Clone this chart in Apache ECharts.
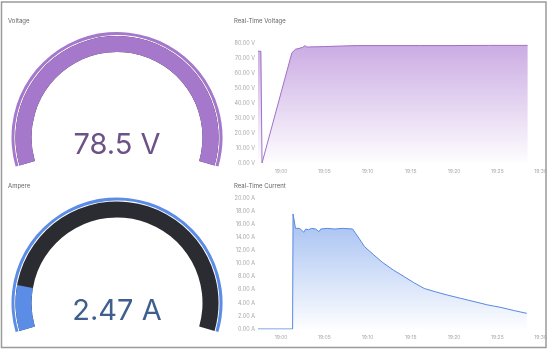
<!DOCTYPE html>
<html>
<head>
<meta charset="utf-8">
<script src="https://cdn.jsdelivr.net/npm/echarts@6/dist/echarts.min.js"></script>
<style>
html,body{margin:0;padding:0;background:#fff;}
#c{width:550px;height:350px;}
</style>
</head>
<body>
<div id="c"></div>
<script>
// ---- data ----
var panelTitles = ['Voltage', 'Real-Time Voltage', 'Ampere', 'Real-Time Current'];
var voltageGauge = 78.5;
var currentGauge = 2.47;
var voltageGaugeMax = 78.5;
var currentGaugeMax = 20;

var voltageTimes = ['18:57:20','18:57:40','18:57:48','19:01:15','19:01:40','19:02:30','19:02:45','19:03:00','19:03:20','19:05:00','19:07:00','19:08:50','19:12:00','19:16:00','19:20:00','19:24:00','19:28:30'];
var voltageValues = [74.5, 74.5, 0, 73.5, 75.8, 77.1, 78.2, 77.3, 77.4, 77.6, 78.0, 78.3, 78.3, 78.3, 78.3, 78.4, 78.4];

var currentTimes = ['18:57:20','19:01:20','19:01:23','19:01:40','19:02:10','19:02:37','19:02:51','19:03:10','19:03:33','19:04:00','19:04:23','19:04:35','19:05:20','19:06:11','19:07:10','19:08:16','19:09:00','19:09:39','19:10:40','19:11:43','19:13:00','19:14:15','19:15:20','19:16:33','19:17:50','19:19:12','19:20:45','19:22:18','19:23:50','19:25:25','19:27:00','19:28:24'];
var currentValues = [0, 0, 17.6, 15.4, 15.4, 14.8, 15.3, 15.2, 15.4, 15.3, 14.9, 15.3, 15.4, 15.3, 15.4, 15.3, 13.9, 12.6, 11.4, 10.2, 9.0, 8.0, 7.1, 6.2, 5.7, 5.2, 4.7, 4.2, 3.7, 3.3, 2.8, 2.4];

var xTickLabels = ['19:00','19:05','19:10','19:15','19:20','19:25','19:30'];
var xMin = '18:57:20';
var xMax = '19:30:00';

var voltageTicks = {min: 0, max: 80, interval: 10};
var currentTicks = {min: 0, max: 20, interval: 2};

// ---- helpers ----
// seconds since 19:00:00
function sec(t){ var p = t.split(':').map(Number); return (p[0]-19)*3600 + p[1]*60 + (p[2]||0); }
function pairs(times, vals){ return times.map(function(t,i){ return [sec(t), vals[i]]; }); }
function pad(n){ return (n<10?'0':'')+n; }
function fmtSec(v){ var tot = 19*3600 + v; var h = Math.floor(tot/3600), m = Math.round((tot%3600)/60); if (m===60){h++;m=0;} return pad(h)+':'+pad(m); }

var FONT = 'Inter, Roboto, sans-serif';
var purple = '#a678cc';
var blue = '#5b8ce6';

function xAxisFor(gi){
  var vals = xTickLabels.map(sec);
  return {
    type: 'value', gridIndex: gi, min: sec(xMin), max: sec(xMax),
    axisLine: {show: false}, axisTick: {show: false}, splitLine: {show: false},
    axisLabel: {
      customValues: vals, fontSize: 5, color: '#a8a8a8', fontFamily: FONT, margin: 6,
      hideOverlap: false, showMinLabel: true, showMaxLabel: true,
      formatter: fmtSec
    }
  };
}
function yAxisFor(gi, tk, unit){
  return {
    type: 'value', gridIndex: gi, min: tk.min, max: tk.max, interval: tk.interval,
    axisLine: {show: false}, axisTick: {show: false},
    splitLine: {show: false},
    axisLabel: {fontSize: 5.5, color: '#a8a8a8', fontFamily: FONT, margin: 3,
      formatter: function(v){ return v.toFixed(2) + ' ' + unit; }}
  };
}
function gaugeOuter(cy, color, max, val){
  return {
    type: 'gauge', center: [117, cy], radius: 105.5, startAngle: 196, endAngle: -16,
    min: 0, max: max, silent: true, animation: false,
    axisLine: {lineStyle: {width: 3, color: [[1, color]]}},
    progress: {show: false}, pointer: {show: false}, axisTick: {show: false},
    splitLine: {show: false}, axisLabel: {show: false}, title: {show: false}, detail: {show: false},
    data: [{value: val}]
  };
}
function gaugeMain(cy, color, track, max, val, textColor, unit, digits){
  return {
    type: 'gauge', center: [117, cy], radius: 101.5, startAngle: 196, endAngle: -16,
    min: 0, max: max, silent: true, animation: false,
    axisLine: {lineStyle: {width: 16, color: [[1, track]]}},
    progress: {show: true, width: 16, itemStyle: {color: color}},
    pointer: {show: false}, axisTick: {show: false}, splitLine: {show: false},
    axisLabel: {show: false}, title: {show: false},
    detail: {offsetCenter: [0, 8], fontSize: 29, fontWeight: 'normal', fontFamily: FONT,
      color: textColor, valueAnimation: false,
      formatter: function(v){ return v.toFixed(digits) + ' ' + unit; }},
    data: [{value: val}]
  };
}
function grad(top, bottom){
  return new echarts.graphic.LinearGradient(0,0,0,1,[{offset:0,color:top},{offset:1,color:bottom}]);
}

var chart = echarts.init(document.getElementById('c'), null, {renderer: 'canvas'});
var titleStyle = {fontSize: 6, fill: '#666', fontFamily: FONT};
chart.setOption({
  animation: false,
  backgroundColor: '#fff',
  graphic: [
    {type: 'rect', shape: {x: 1.5, y: 2, width: 544.5, height: 345.5}, style: {fill: 'none', stroke: '#9a9a9a', lineWidth: 1.5}, z: 100},
    {type: 'text', x: 8, y: 18, style: Object.assign({text: panelTitles[0]}, titleStyle)},
    {type: 'text', x: 234, y: 18, style: Object.assign({text: panelTitles[1]}, titleStyle)},
    {type: 'text', x: 8, y: 183, style: Object.assign({text: panelTitles[2]}, titleStyle)},
    {type: 'text', x: 234, y: 183, style: Object.assign({text: panelTitles[3]}, titleStyle)}
  ],
  grid: [
    {left: 258, right: 8, top: 43, bottom: 187},
    {left: 258, right: 8, top: 198.3, bottom: 21}
  ],
  xAxis: [xAxisFor(0), xAxisFor(1)],
  yAxis: [yAxisFor(0, voltageTicks, 'V'), yAxisFor(1, currentTicks, 'A')],
  series: [
    gaugeOuter(137.5, purple, voltageGaugeMax, voltageGauge),
    gaugeMain(137.5, purple, '#2a2c31', voltageGaugeMax, voltageGauge, '#6c5286', 'V', 1),
    gaugeOuter(303, blue, currentGaugeMax, currentGauge),
    gaugeMain(303, blue, '#2a2c31', currentGaugeMax, currentGauge, '#3f5f8e', 'A', 2),
    {
      type: 'line', xAxisIndex: 0, yAxisIndex: 0, data: pairs(voltageTimes, voltageValues),
      showSymbol: false, symbol: 'none', lineStyle: {color: '#a070c8', width: 1},
      areaStyle: {color: grad('rgba(170,120,210,0.88)', 'rgba(170,120,210,0.02)'), origin: 'start'}
    },
    {
      type: 'line', xAxisIndex: 1, yAxisIndex: 1, data: pairs(currentTimes, currentValues),
      showSymbol: false, symbol: 'none', lineStyle: {color: '#5a88e0', width: 1},
      areaStyle: {color: grad('rgba(90,140,230,0.8)', 'rgba(90,140,230,0.02)'), origin: 'start'}
    }
  ]
});
</script>
</body>
</html>
